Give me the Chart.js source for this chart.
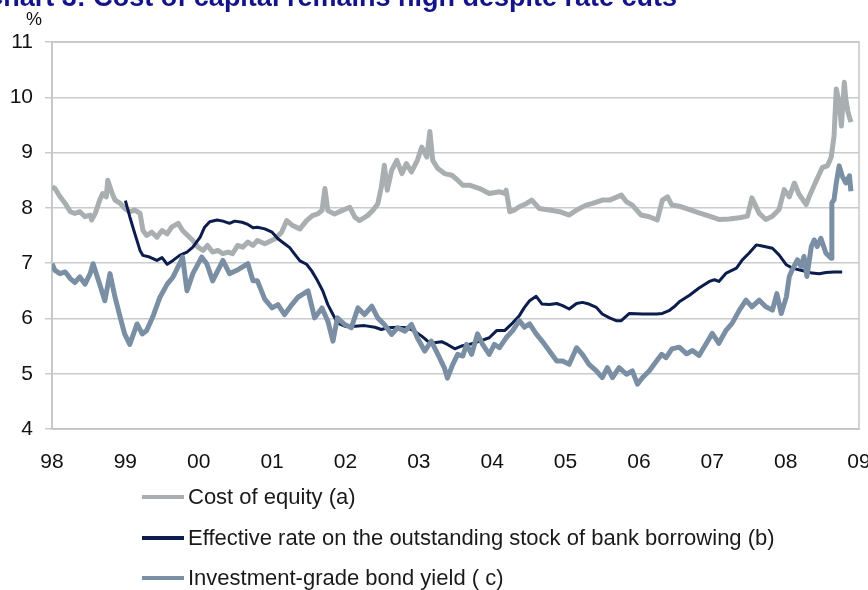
<!DOCTYPE html>
<html>
<head>
<meta charset="utf-8">
<script src="https://cdn.jsdelivr.net/npm/chart.js@4/dist/chart.umd.min.js"></script>
<style>
  html, body { margin: 0; padding: 0; background: #fff; }
  #wrap { width: 868px; height: 590px; position: relative; overflow: hidden; }
</style>
</head>
<body>
<div id="wrap"><canvas id="myChart" width="868" height="590"></canvas></div>
<script>
// chart 3 - cost of capital, %
var titleText = "Chart 3: Cost of capital remains high despite rate cuts";
var unitText = "%";
var yearLabels = ["98", "99", "00", "01", "02", "03", "04", "05", "06", "07", "08", "09"];
var seriesNames = [
  "Cost of equity (a)",
  "Effective rate on the outstanding stock of bank borrowing (b)",
  "Investment-grade bond yield ( c)"
];

var equityDates = [1998.00,1998.04,1998.11,1998.18,1998.25,1998.31,1998.38,1998.45,1998.52,1998.54,1998.59,1998.65,1998.69,1998.74,1998.76,1998.82,1998.86,1998.93,1998.99,1999.06,1999.13,1999.20,1999.24,1999.29,1999.36,1999.43,1999.50,1999.57,1999.63,1999.72,1999.78,1999.85,1999.92,1999.99,2000.06,2000.12,2000.19,2000.26,2000.33,2000.40,2000.46,2000.53,2000.60,2000.67,2000.74,2000.80,2000.90,2001.04,2001.13,2001.20,2001.28,2001.38,2001.47,2001.55,2001.62,2001.68,2001.72,2001.76,2001.85,2001.95,2002.06,2002.13,2002.19,2002.30,2002.37,2002.44,2002.49,2002.53,2002.57,2002.63,2002.70,2002.77,2002.83,2002.90,2002.98,2003.04,2003.11,2003.15,2003.19,2003.26,2003.35,2003.45,2003.53,2003.60,2003.69,2003.83,2003.96,2004.10,2004.17,2004.19,2004.24,2004.30,2004.37,2004.47,2004.54,2004.64,2004.78,2004.92,2005.05,2005.15,2005.28,2005.37,2005.50,2005.60,2005.76,2005.83,2005.91,2006.03,2006.14,2006.25,2006.32,2006.39,2006.45,2006.55,2006.69,2006.82,2006.96,2007.09,2007.23,2007.37,2007.48,2007.54,2007.64,2007.73,2007.82,2007.91,2007.98,2008.05,2008.12,2008.18,2008.28,2008.32,2008.42,2008.50,2008.57,2008.62,2008.66,2008.69,2008.73,2008.76,2008.80,2008.82,2008.85,2008.89];
var equityValues = [8.38,8.35,8.20,8.08,7.93,7.90,7.93,7.84,7.87,7.78,7.90,8.14,8.26,8.20,8.50,8.26,8.14,8.08,7.99,7.93,7.96,7.90,7.59,7.50,7.56,7.47,7.59,7.53,7.65,7.72,7.59,7.50,7.41,7.29,7.23,7.32,7.20,7.23,7.17,7.20,7.17,7.32,7.29,7.38,7.32,7.41,7.35,7.44,7.56,7.77,7.68,7.62,7.77,7.86,7.89,7.95,8.35,7.95,7.89,7.95,8.01,7.83,7.77,7.86,7.95,8.07,8.38,8.77,8.32,8.68,8.86,8.62,8.80,8.65,8.86,9.10,8.92,9.38,8.86,8.71,8.62,8.59,8.50,8.41,8.41,8.35,8.26,8.29,8.26,8.32,7.93,7.96,8.02,8.08,8.14,7.99,7.96,7.93,7.87,7.96,8.05,8.08,8.14,8.14,8.23,8.11,8.05,7.87,7.84,7.78,8.14,8.20,8.05,8.03,7.97,7.91,7.85,7.79,7.80,7.82,7.85,8.18,7.90,7.79,7.85,7.97,8.33,8.20,8.45,8.25,8.06,8.20,8.50,8.73,8.76,8.91,9.30,10.15,9.90,9.48,10.27,9.97,9.73,9.55];

var bankDates = [1999.00,1999.06,1999.13,1999.20,1999.24,1999.33,1999.43,1999.50,1999.57,1999.65,1999.74,1999.84,1999.92,2000.02,2000.08,2000.15,2000.25,2000.33,2000.42,2000.49,2000.59,2000.67,2000.74,2000.80,2000.90,2001.00,2001.08,2001.17,2001.24,2001.31,2001.38,2001.47,2001.54,2001.62,2001.69,2001.76,2001.83,2001.89,2001.99,2002.13,2002.26,2002.40,2002.49,2002.57,2002.71,2002.85,2002.94,2003.04,2003.12,2003.21,2003.31,2003.39,2003.49,2003.58,2003.69,2003.79,2003.96,2004.06,2004.17,2004.28,2004.37,2004.44,2004.51,2004.60,2004.68,2004.78,2004.88,2004.96,2005.05,2005.15,2005.23,2005.32,2005.42,2005.50,2005.60,2005.69,2005.76,2005.87,2006.05,2006.24,2006.32,2006.41,2006.48,2006.55,2006.69,2006.82,2006.96,2007.03,2007.09,2007.19,2007.33,2007.41,2007.50,2007.60,2007.68,2007.82,2007.91,2008.01,2008.09,2008.18,2008.28,2008.36,2008.46,2008.55,2008.66,2008.77];
var bankValues = [8.13,7.84,7.53,7.23,7.14,7.11,7.05,7.10,6.98,7.05,7.14,7.20,7.29,7.47,7.65,7.75,7.78,7.76,7.72,7.76,7.74,7.70,7.64,7.65,7.62,7.56,7.44,7.35,7.28,7.16,7.04,6.98,6.86,6.68,6.50,6.25,6.07,5.92,5.86,5.86,5.87,5.84,5.80,5.83,5.84,5.83,5.77,5.68,5.59,5.56,5.58,5.53,5.45,5.50,5.53,5.57,5.65,5.78,5.78,5.92,6.05,6.20,6.32,6.40,6.26,6.25,6.27,6.23,6.17,6.27,6.29,6.26,6.20,6.08,6.01,5.96,5.96,6.09,6.08,6.08,6.09,6.14,6.21,6.30,6.42,6.55,6.67,6.70,6.67,6.82,6.91,7.06,7.18,7.33,7.31,7.27,7.15,6.97,6.91,6.88,6.85,6.82,6.81,6.83,6.84,6.84];

var bondDates = [1998.00,1998.04,1998.11,1998.18,1998.25,1998.31,1998.38,1998.45,1998.52,1998.56,1998.65,1998.72,1998.79,1998.86,1998.93,1998.99,1999.06,1999.16,1999.23,1999.29,1999.38,1999.47,1999.57,1999.65,1999.74,1999.78,1999.84,1999.92,2000.04,2000.11,2000.19,2000.33,2000.42,2000.52,2000.67,2000.74,2000.80,2000.90,2001.00,2001.08,2001.17,2001.27,2001.35,2001.49,2001.58,2001.68,2001.76,2001.83,2001.89,2001.99,2002.08,2002.17,2002.26,2002.36,2002.44,2002.53,2002.63,2002.71,2002.81,2002.90,2002.98,2003.08,2003.17,2003.26,2003.35,2003.39,2003.46,2003.53,2003.60,2003.65,2003.72,2003.80,2003.87,2003.96,2004.03,2004.10,2004.19,2004.28,2004.37,2004.44,2004.51,2004.60,2004.68,2004.78,2004.88,2004.96,2005.05,2005.15,2005.23,2005.32,2005.42,2005.50,2005.57,2005.64,2005.73,2005.83,2005.91,2005.98,2006.05,2006.14,2006.24,2006.31,2006.37,2006.45,2006.55,2006.65,2006.73,2006.82,2006.92,2007.00,2007.09,2007.19,2007.27,2007.37,2007.46,2007.54,2007.64,2007.73,2007.82,2007.88,2007.94,2008.01,2008.05,2008.09,2008.16,2008.21,2008.25,2008.29,2008.35,2008.39,2008.43,2008.48,2008.55,2008.62,2008.63,2008.66,2008.69,2008.73,2008.77,2008.82,2008.87,2008.89];
var bondValues = [6.99,6.87,6.81,6.84,6.72,6.65,6.75,6.62,6.81,6.99,6.62,6.32,6.81,6.38,6.02,5.72,5.53,5.90,5.72,5.78,6.05,6.38,6.62,6.75,6.99,7.11,6.50,6.81,7.11,6.99,6.68,7.05,6.81,6.87,6.99,6.68,6.68,6.35,6.19,6.25,6.07,6.25,6.38,6.50,6.01,6.19,5.95,5.59,6.01,5.89,5.83,6.19,6.07,6.22,6.01,5.89,5.71,5.83,5.77,5.89,5.65,5.41,5.59,5.35,5.10,4.92,5.16,5.35,5.32,5.53,5.35,5.72,5.53,5.35,5.53,5.47,5.65,5.78,5.96,5.84,5.90,5.72,5.59,5.41,5.23,5.23,5.17,5.47,5.35,5.17,5.05,4.93,5.11,4.93,5.11,4.99,5.05,4.81,4.93,5.05,5.23,5.35,5.29,5.45,5.48,5.36,5.42,5.33,5.55,5.73,5.55,5.79,5.91,6.15,6.33,6.21,6.33,6.21,6.15,6.45,6.09,6.39,6.76,6.88,7.06,6.94,7.12,6.76,7.30,7.42,7.30,7.45,7.18,7.09,8.09,8.15,8.45,8.76,8.58,8.45,8.58,8.30];

function toPoints(dates, values) {
  return dates.map(function (d, i) { return { x: d, y: values[i] }; });
}

var colours = ["#a9aeb1", "#0b1c4d", "#7a8ea4"];
var widths = [5, 3, 5];

Chart.defaults.font.family = "'Liberation Sans', Arial, sans-serif";

// title, % label, box and legend
var decorations = {
  id: "decorations",
  beforeDatasetsDraw: function (chart) {
    var a = chart.chartArea, ctx = chart.ctx;
    ctx.save();
    ctx.strokeStyle = "#c3c6c9";
    ctx.lineWidth = 1.5;
    ctx.strokeRect(a.left, a.top, a.right - a.left, a.bottom - a.top);
    ctx.restore();
  },
  afterDraw: function (chart) {
    var ctx = chart.ctx;
    ctx.save();
    ctx.fillStyle = "#14148a";
    ctx.font = "bold 27px 'Liberation Sans', Arial, sans-serif";
    ctx.textAlign = "right";
    ctx.textBaseline = "alphabetic";
    ctx.fillText(titleText, 677, 6);

    ctx.fillStyle = "#111";
    ctx.font = "18px 'Liberation Sans', Arial, sans-serif";
    ctx.textAlign = "center";
    ctx.textBaseline = "middle";
    ctx.fillText(unitText, 34, 20);

    var rows = [497, 538, 578];
    ctx.font = "22px 'Liberation Sans', Arial, sans-serif";
    ctx.textAlign = "left";
    chart.data.datasets.forEach(function (ds, i) {
      ctx.strokeStyle = ds.borderColor;
      ctx.lineWidth = 4;
      ctx.beginPath();
      ctx.moveTo(142, rows[i]);
      ctx.lineTo(184, rows[i]);
      ctx.stroke();
      ctx.fillStyle = "#1a1a1a";
      ctx.fillText(ds.label, 188, rows[i] + 1);
    });
    ctx.restore();
  }
};

var ctx = document.getElementById("myChart").getContext("2d");
var myChart = new Chart(ctx, {
  type: "line",
  data: {
    datasets: [
      { label: seriesNames[0], data: toPoints(equityDates, equityValues), borderColor: colours[0], borderWidth: widths[0], order: 2 },
      { label: seriesNames[1], data: toPoints(bankDates, bankValues), borderColor: colours[1], borderWidth: widths[1], order: 1 },
      { label: seriesNames[2], data: toPoints(bondDates, bondValues), borderColor: colours[2], borderWidth: widths[2], order: 0 }
    ]
  },
  options: {
    responsive: false,
    animation: false,
    elements: {
      point: { radius: 0 },
      line: { tension: 0, fill: false, borderJoinStyle: "round" }
    },
    layout: { padding: { top: 42, right: 9, left: 0, bottom: 0 } },
    plugins: {
      legend: { display: false },
      title: { display: false },
      tooltip: { enabled: false }
    },
    scales: {
      x: {
        type: "linear",
        min: 1998,
        max: 2009,
        grid: { display: false, drawTicks: false },
        border: { display: true, color: "#c3c6c9", width: 1.5 },
        ticks: {
          stepSize: 1,
          padding: 21,
          color: "#111",
          font: { size: 21 },
          maxRotation: 0,
          callback: function (v) { return yearLabels[Math.round(v - 1998)]; }
        },
        afterFit: function (s) { s.height = 161; s.paddingLeft = 0; s.paddingRight = 0; }
      },
      y: {
        min: 4,
        max: 11,
        grid: { color: "#c9ccce", lineWidth: 1.5, tickLength: 7 },
        border: { display: true, color: "#c3c6c9", width: 1.5 },
        ticks: { stepSize: 1, padding: 12, color: "#111", font: { size: 21 } },
        afterFit: function (s) { s.width = 52; s.paddingTop = 0; s.paddingBottom = 0; }
      }
    }
  },
  plugins: [decorations]
});
</script>
</body>
</html>
